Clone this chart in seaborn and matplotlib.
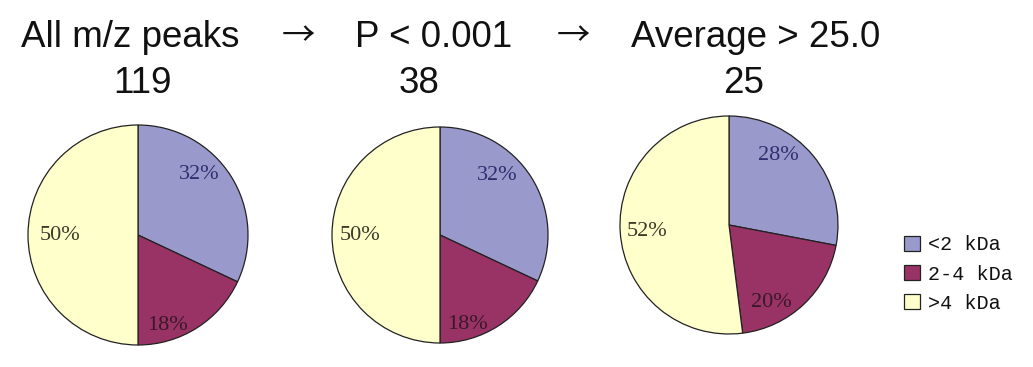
import matplotlib
matplotlib.use("Agg")
import matplotlib.pyplot as plt
import seaborn as sns

# ---- data ----
stages = ["All m/z peaks", "P < 0.001", "Average > 25.0"]
counts = [119, 38, 25]
categories = ["<2 kDa", "2-4 kDa", ">4 kDa"]
share_all = [32, 18, 50]
share_p = [32, 18, 50]
share_avg = [28, 20, 52]

# ---- style ----
sns.set_theme(style="white")
plt.rcParams["font.family"] = ["Liberation Sans", "DejaVu Sans"]
colors = sns.color_palette(["#9999CC", "#993366", "#FFFFCC"])
label_colors = ["#2f2f70", "#3a1828", "#3a3a28"]

W, H = 1033, 367
fig = plt.figure(figsize=(W / 100, H / 100), dpi=100)
fig.patch.set_facecolor("white")

# layout (pixels): pie centre x, centre y, radius
pie_layout = [(138, 235, 110), (440, 235, 108), (729, 225, 109)]
# label positions in radius units, per pie
label_offsets = [
    [(0.56, 0.55), (0.27, -0.82), (-0.71, 0.0)],
    [(0.53, 0.55), (0.25, -0.83), (-0.74, 0.0)],
    [(0.45, 0.64), (0.39, -0.71), (-0.75, -0.06)],
]
title_x = [130, 434, 756]
count_x = [143, 419, 744]
arrow_x = [298, 573]

shares = [share_all, share_p, share_avg]
wedges_ref = None
for i, vals in enumerate(shares):
    cx, cy, r = pie_layout[i]
    ax = fig.add_axes([(cx - r) / W, (H - cy - r) / H, 2 * r / W, 2 * r / H])
    wedges, texts, autotexts = ax.pie(
        vals, colors=colors, startangle=90, counterclock=False,
        autopct=lambda p: f"{p:.0f}%",
        wedgeprops=dict(edgecolor="#222222", linewidth=0.9),
        textprops=dict(family=["Liberation Serif", "DejaVu Serif"], fontsize=16),
    )
    for w in wedges:
        w.set_clip_on(False)
    for t, (ox, oy), c in zip(autotexts, label_offsets[i], label_colors):
        t.set_position((ox, oy))
        t.set_color(c)
        t.set_ha("center")
        t.set_va("center")
    ax.set_aspect("auto")
    ax.set_xlim(-1, 1)
    ax.set_ylim(-1, 1)
    ax.axis("off")
    if wedges_ref is None:
        wedges_ref = wedges

    fig.text(title_x[i] / W, 1 - 47 / H, stages[i], ha="center", va="baseline",
             fontsize=26.5, color="#111111")
    fig.text(count_x[i] / W, 1 - 93 / H, str(counts[i]), ha="center", va="baseline",
             fontsize=26.5, color="#111111")

for ax_ in arrow_x:
    fig.text(ax_ / W, 1 - 37 / H, "\u2192", ha="center", va="center",
             fontsize=24, color="#111111", family=["Noto Sans CJK SC", "DejaVu Sans"])

leg = fig.legend(
    wedges_ref, categories, loc="center left",
    bbox_to_anchor=(904 / W, 1 - 274 / H), frameon=False,
    prop=dict(family=["Liberation Mono", "DejaVu Sans Mono"], size=14.5),
    handlelength=0.8, handleheight=0.8, handletextpad=0.4,
    labelspacing=0.5, borderpad=0, borderaxespad=0,
)
for t in leg.get_texts():
    t.set_color("#111111")

fig.savefig("out.png", dpi=100, facecolor="white")
